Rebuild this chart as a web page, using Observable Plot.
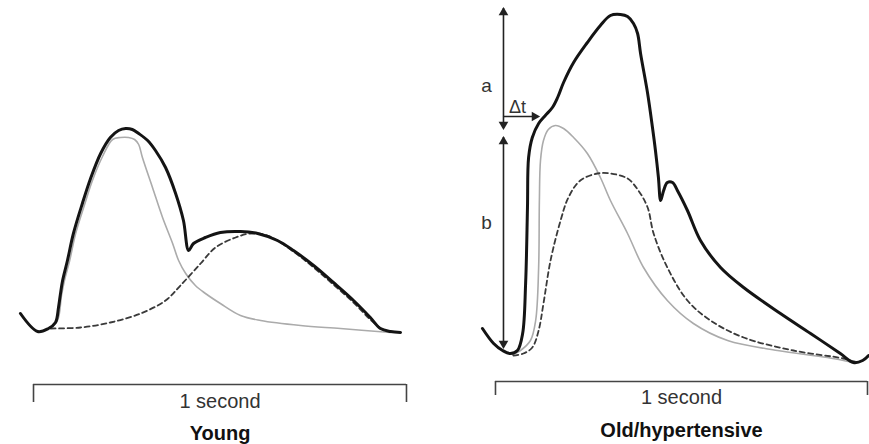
<!DOCTYPE html>
<html>
<head>
<meta charset="utf-8">
<script src="https://cdn.jsdelivr.net/npm/d3@7"></script>
<script src="https://cdn.jsdelivr.net/npm/@observablehq/plot@0.6"></script>
<style>
  html, body { margin: 0; padding: 0; background: #fff; }
  #wrap { display: flex; width: 869px; height: 444px; overflow: hidden; }
  svg { display: block; }
</style>
</head>
<body>
<div id="wrap"></div>
<script>
// time (s) from start of 1-second bracket, pressure (arbitrary units)
const youngTotal = [[-0.035,47],[0.011,29],[0.040,32],[0.059,38],[0.067,53],[0.072,66],[0.078,80],[0.091,100],[0.107,127],[0.131,157],[0.153,182],[0.180,207],[0.206,223],[0.228,230],[0.247,232],[0.265,231],[0.282,227],[0.306,220],[0.327,210],[0.354,193],[0.381,167],[0.402,140],[0.416,110],[0.429,117],[0.461,123],[0.501,128],[0.555,129],[0.601,127],[0.654,120],[0.697,110],[0.751,95],[0.804,78],[0.858,60],[0.903,43],[0.930,32],[0.957,29],[0.984,28]];
const youngForward = [[0.040,32],[0.064,40],[0.075,65],[0.083,80],[0.097,100],[0.113,127],[0.137,156],[0.158,180],[0.185,204],[0.212,221],[0.233,223],[0.255,223],[0.271,221],[0.282,216],[0.292,203],[0.319,173],[0.346,143],[0.373,117],[0.389,100],[0.408,87],[0.434,75],[0.461,67],[0.501,57],[0.555,45],[0.609,40],[0.716,35],[0.823,32],[0.957,28]];
const youngReflected = [[0.046,32],[0.126,33],[0.206,38],[0.287,47],[0.354,60],[0.394,75],[0.448,97],[0.488,113],[0.542,123],[0.582,127],[0.627,125],[0.697,109],[0.751,93],[0.804,76],[0.858,58],[0.903,41],[0.938,30]];

const oldTotal = [[-0.035,32],[-0.005,17],[0.019,10],[0.040,7],[0.059,10],[0.073,27],[0.081,77],[0.086,153],[0.089,203],[0.099,223],[0.116,237],[0.134,245],[0.153,253],[0.167,263],[0.183,278],[0.210,298],[0.247,318],[0.282,335],[0.309,345],[0.336,346],[0.355,344],[0.371,337],[0.382,327],[0.390,307],[0.409,267],[0.422,233],[0.430,210],[0.438,183],[0.444,160],[0.452,170],[0.462,178],[0.476,178],[0.489,170],[0.516,150],[0.551,120],[0.605,93],[0.667,73],[0.766,47],[0.847,27],[0.927,7],[0.962,-2],[0.987,0],[1.003,5]];
const oldForward = [[0.046,6],[0.067,10],[0.094,20],[0.108,40],[0.116,93],[0.118,160],[0.121,200],[0.129,220],[0.142,231],[0.161,235],[0.183,232],[0.210,223],[0.247,207],[0.282,183],[0.309,160],[0.355,127],[0.398,93],[0.462,60],[0.532,37],[0.624,20],[0.758,10],[0.892,3],[0.962,-2]];
const oldReflected = [[0.048,5],[0.075,7],[0.099,13],[0.116,30],[0.129,57],[0.148,100],[0.175,140],[0.196,163],[0.228,180],[0.274,187],[0.309,187],[0.355,182],[0.384,170],[0.409,153],[0.425,127],[0.462,93],[0.516,60],[0.578,40],[0.667,23],[0.801,10],[0.935,2],[0.973,-2]];

// annotation values: augmentation "a" (232→352), inflection "b" (13→223), Δt
const arrowX = 0.0215;
const aRange = [232, 352];
const bRange = [13, 223];
const dtRange = [0.0215, 0.116];
const dtLevel = 244;

const bracketSpan = [0, 1];
const bracketLabel = "1 second";
const panelTitles = ["Young", "Old/hypertensive"];

const rows = a => a.map(([t, p]) => ({t, p}));
const FONT = "'Liberation Sans', Arial, Helvetica, sans-serif";
const CURVE = "catmull-rom";

function curves(total, forward, reflected) {
  return [
    Plot.line(rows(forward), {x: "t", y: "p", stroke: "#ababab", strokeWidth: 1.6, curve: CURVE}),
    Plot.line(rows(reflected), {x: "t", y: "p", stroke: "#3a3a3a", strokeWidth: 1.8, strokeDasharray: "5,3.5", curve: CURVE}),
    Plot.line(rows(total), {x: "t", y: "p", stroke: "#141414", strokeWidth: 3, curve: CURVE, strokeLinejoin: "round"})
  ];
}

function bracket(top, tickBottom, labelY, titleY, title) {
  return [
    Plot.ruleY([top], {x1: bracketSpan[0], x2: bracketSpan[1], stroke: "#444", strokeWidth: 1.6}),
    Plot.ruleX(bracketSpan, {y1: top, y2: tickBottom, stroke: "#444", strokeWidth: 1.6}),
    Plot.text([bracketLabel], {x: () => (bracketSpan[0] + bracketSpan[1]) / 2, y: () => labelY, text: d => d, fontSize: 20, fill: "#333", fontFamily: FONT}),
    Plot.text([title], {x: () => (bracketSpan[0] + bracketSpan[1]) / 2, y: () => titleY, text: d => d, fontSize: 20, fontWeight: "bold", fill: "#111", fontFamily: FONT})
  ];
}

const common = {height: 444, margin: 0, style: {background: "white", overflow: "visible", fontFamily: FONT}};

const young = Plot.plot({
  ...common,
  width: 440,
  x: {domain: [-0.0885, 1.0912], axis: null},
  y: {domain: [-84, 360], axis: null},
  marks: [
    ...curves(youngTotal, youngForward, youngReflected),
    ...bracket(-24, -42, -41, -73, panelTitles[0])
  ]
});

const heads = [
  {t: arrowX, p: aRange[1] - 4, r: 0},
  {t: arrowX, p: aRange[0] + 4, r: 180},
  {t: arrowX, p: bRange[1] - 4, r: 0},
  {t: arrowX, p: bRange[0] + 4, r: 180},
  {t: dtRange[1] - 0.011, p: dtLevel, r: 90}
];

const old = Plot.plot({
  ...common,
  width: 429,
  x: {domain: [-0.1478, 1.0054], axis: null},
  y: {domain: [-84, 360], axis: null},
  marks: [
    ...curves(oldTotal, oldForward, oldReflected),
    Plot.ruleX([arrowX], {y1: aRange[0], y2: aRange[1], stroke: "#222", strokeWidth: 1.6}),
    Plot.ruleX([arrowX], {y1: bRange[0], y2: bRange[1], stroke: "#222", strokeWidth: 1.6}),
    Plot.ruleY([dtLevel], {x1: dtRange[0], x2: dtRange[1] - 0.01, stroke: "#222", strokeWidth: 1.6}),
    Plot.dot(heads, {x: "t", y: "p", rotate: "r", symbol: "triangle", r: 3.6, fill: "#222", stroke: "none"}),
    Plot.text(["a"], {x: () => -0.024, y: () => 275, text: d => d, fontSize: 19, fill: "#333", fontFamily: FONT}),
    Plot.text(["b"], {x: () => -0.024, y: () => 138, text: d => d, fontSize: 19, fill: "#333", fontFamily: FONT}),
    Plot.text(["Δt"], {x: () => 0.059, y: () => 253, text: d => d, fontSize: 18, fill: "#333", fontFamily: FONT}),
    ...bracket(-21, -35, -37, -70, panelTitles[1])
  ]
});

document.getElementById("wrap").append(young, old);
</script>
</body>
</html>
